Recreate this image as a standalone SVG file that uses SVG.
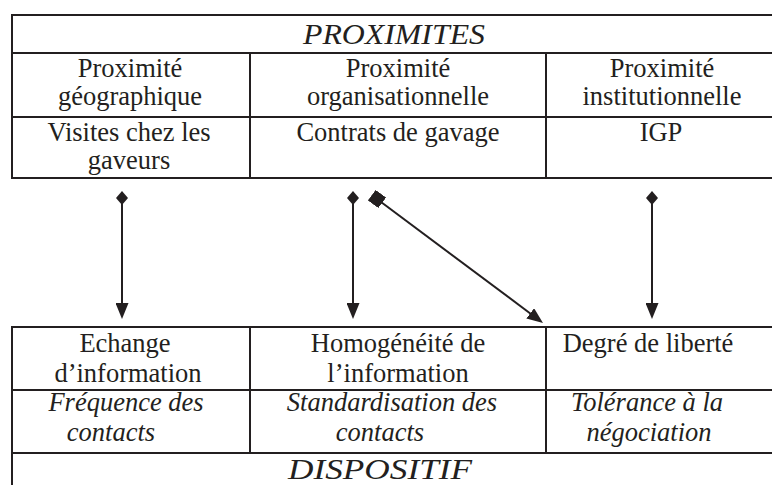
<svg xmlns="http://www.w3.org/2000/svg" width="772" height="485" viewBox="0 0 772 485">
  <style>
    .grid { stroke: #231f20; stroke-width: 2; fill: none; }
    .t { font-family: 'Liberation Serif', 'DejaVu Serif', serif; font-size: 26.5px; fill: #231f20; text-anchor: middle; }
    .i { font-style: italic; }
    .title { font-family: 'Liberation Serif', 'DejaVu Serif', serif; font-size: 30px; font-style: italic; fill: #231f20; text-anchor: middle; }
    .link { stroke: #231f20; stroke-width: 2; fill: none; }
  </style>
  <defs>
    <marker id="diamond" markerUnits="userSpaceOnUse" viewBox="0 0 16 14" markerWidth="16" markerHeight="14" refX="8" refY="7" orient="auto">
      <path d="M1,7 L8,1 L15,7 L8,13 Z" fill="#231f20"/>
    </marker>
    <marker id="square" markerUnits="userSpaceOnUse" viewBox="0 0 13 13" markerWidth="13" markerHeight="13" refX="6.5" refY="6.5" orient="auto">
      <rect x="0" y="0" width="13" height="13" fill="#231f20"/>
    </marker>
    <marker id="head" markerUnits="userSpaceOnUse" viewBox="0 0 16 13" markerWidth="16" markerHeight="13" refX="8" refY="6.5" orient="auto">
      <path d="M0,0 L16,6.5 L0,13 Z" fill="#231f20"/>
    </marker>
  </defs>

  <!-- upper table: proximities -->
  <g id="proximites">
    <path class="grid" d="M11,15 H772 M11,53 H772 M11,117 H772 M11,178 H772 M12,15 V178 M250,53 V178 M546,53 V178"/>
    <text class="title" x="394" y="44" textLength="182" lengthAdjust="spacingAndGlyphs">PROXIMITES</text>
    <g id="prox-geo">
      <text class="t" x="130" y="77">Proximité</text>
      <text class="t" x="130" y="105">géographique</text>
      <text class="t" x="129" y="141">Visites chez les</text>
      <text class="t" x="129" y="169">gaveurs</text>
    </g>
    <g id="prox-org">
      <text class="t" x="398" y="77">Proximité</text>
      <text class="t" x="398" y="105">organisationnelle</text>
      <text class="t" x="398" y="141">Contrats de gavage</text>
    </g>
    <g id="prox-inst">
      <text class="t" x="662" y="77">Proximité</text>
      <text class="t" x="662" y="105">institutionnelle</text>
      <text class="t" x="661" y="141">IGP</text>
    </g>
  </g>

  <!-- lower table: arrangement -->
  <g id="dispositif">
    <path class="grid" d="M11,327 H772 M11,390 H772 M11,453 H772 M12,327 V485 M250,327 V453 M546,327 V453"/>
    <g id="disp-echange">
      <text class="t" x="125" y="352">Echange</text>
      <text class="t" x="128" y="382">d’information</text>
      <text class="t i" x="126" y="411">Fréquence des</text>
      <text class="t i" x="111" y="441">contacts</text>
    </g>
    <g id="disp-homog">
      <text class="t" x="398" y="352">Homogénéité de</text>
      <text class="t" x="398" y="382">l’information</text>
      <text class="t i" x="392" y="411">Standardisation des</text>
      <text class="t i" x="380" y="441">contacts</text>
    </g>
    <g id="disp-liberte">
      <text class="t" x="648" y="352">Degré de liberté</text>
      <text class="t i" x="647" y="411">Tolérance à la</text>
      <text class="t i" x="649" y="441">négociation</text>
    </g>
    <text class="title" x="380" y="479" textLength="184" lengthAdjust="spacingAndGlyphs">DISPOSITIF</text>
  </g>

  <!-- connectors -->
  <g id="connectors">
    <line class="link" x1="122" y1="198" x2="122" y2="311" marker-start="url(#diamond)" marker-end="url(#head)"/>
    <line class="link" x1="353" y1="198" x2="353" y2="311" marker-start="url(#diamond)" marker-end="url(#head)"/>
    <line class="link" x1="377" y1="199" x2="536.6" y2="318.2" marker-start="url(#square)" marker-end="url(#head)"/>
    <line class="link" x1="652" y1="198" x2="652" y2="311" marker-start="url(#diamond)" marker-end="url(#head)"/>
  </g>
</svg>
